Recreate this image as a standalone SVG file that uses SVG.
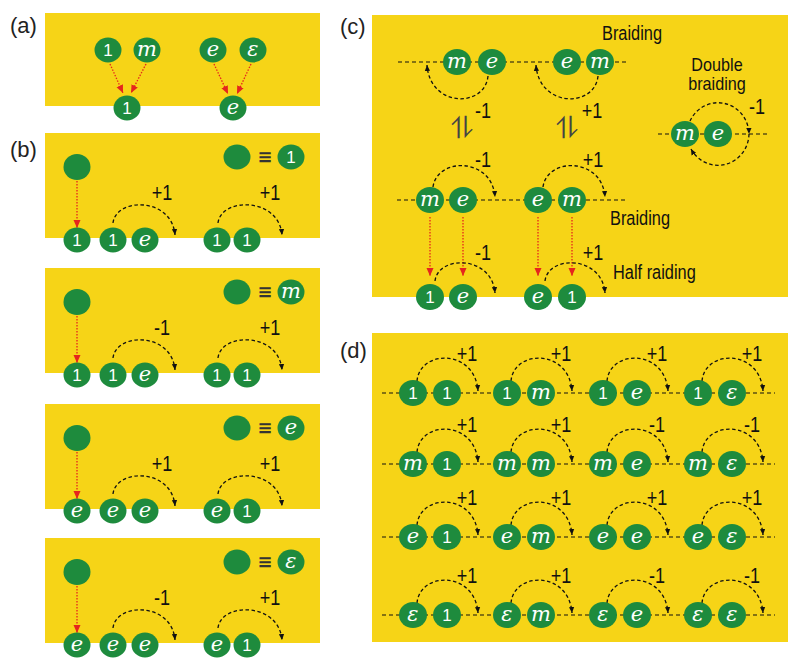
<svg xmlns="http://www.w3.org/2000/svg" width="800" height="667" viewBox="0 0 800 667">
<style>
.bg{fill:#F6D417}
.n{fill:#1E8B3D}
.t1{font-family:"Liberation Sans",Arial,sans-serif;font-size:17px;fill:#fff;text-anchor:middle}
.ti{font-family:"DejaVu Serif","Liberation Serif",serif;font-style:italic;font-size:21px;fill:#fff;text-anchor:middle}
.lab{font-family:"Liberation Sans",Arial,sans-serif;font-size:22px;fill:#111;text-anchor:middle}
.txt{font-family:"Liberation Sans",Arial,sans-serif;font-size:19.5px;fill:#111}
.txt2{font-family:"Liberation Sans",Arial,sans-serif;font-size:18px;fill:#111;text-anchor:middle}
.pl{font-family:"Liberation Sans",Arial,sans-serif;font-size:22px;fill:#222}
.eq{font-family:"DejaVu Sans",sans-serif;font-size:18px;font-weight:bold;fill:#333;text-anchor:middle}
.hp{font-family:"DejaVu Sans",sans-serif;font-size:30px;fill:#444;text-anchor:middle}
.dl{stroke:#111;stroke-width:1.2;stroke-dasharray:4 3;fill:none}
.arc{stroke:#111;stroke-width:1.3;stroke-dasharray:3.5 2.5;fill:none;marker-end:url(#ah)}
.red{stroke:#E5251D;stroke-width:1.3;stroke-dasharray:1.5 1.5;fill:none;marker-end:url(#rh)}
</style>
<defs>
<marker id="ah" viewBox="0 0 8 8" refX="8" refY="4" markerWidth="6" markerHeight="6" markerUnits="userSpaceOnUse" orient="auto"><path d="M0,0.5 L8,4 L0,7.5z" fill="#111"/></marker>
<marker id="rh" viewBox="0 0 8 8" refX="8" refY="4" markerWidth="8" markerHeight="8" markerUnits="userSpaceOnUse" orient="auto"><path d="M0,0.5 L8,4 L0,7.5z" fill="#E5251D"/></marker>
</defs>

<!-- panel backgrounds -->
<g id="panels">
<rect class="bg" x="45" y="13" width="275" height="93"/>
<rect class="bg" x="45" y="133" width="275" height="105"/>
<rect class="bg" x="45" y="268" width="275" height="105"/>
<rect class="bg" x="45" y="404" width="275" height="105"/>
<rect class="bg" x="45" y="538" width="275" height="105"/>
<rect class="bg" x="372" y="15" width="416" height="282"/>
<rect class="bg" x="372" y="333" width="416" height="309"/>
<text class="pl" x="10" y="33">(a)</text>
<text class="pl" x="10" y="157">(b)</text>
<text class="pl" x="340" y="34">(c)</text>
<text class="pl" x="340" y="358">(d)</text>
</g>

<!-- connectors -->
<g id="connectors">
<!-- (a) -->
<path class="red" d="M110,64 L123,93"/>
<path class="red" d="M146,64 L131,93"/>
<path class="red" d="M214,64 L228,94"/>
<path class="red" d="M251,64 L237,94"/>
<!-- (b) box1 T=133 -->
<path class="red" d="M77,181 L77,228"/>
<path class="arc" d="M113,223 C116,197 172,197 175,235"/>
<path class="arc" d="M218,223 C221,197 279,197 282,235"/>
<!-- box2 T=268 -->
<path class="red" d="M77,316 L77,363"/>
<path class="arc" d="M113,358 C116,332 172,332 175,370"/>
<path class="arc" d="M218,358 C221,332 279,332 282,370"/>
<!-- box3 T=404 -->
<path class="red" d="M77,452 L77,499"/>
<path class="arc" d="M113,494 C116,468 172,468 175,506"/>
<path class="arc" d="M218,494 C221,468 279,468 282,506"/>
<!-- box4 T=538 -->
<path class="red" d="M77,586 L77,633"/>
<path class="arc" d="M113,628 C116,602 172,602 175,640"/>
<path class="arc" d="M218,628 C221,602 279,602 282,640"/>
<!-- (c) -->
<line class="dl" x1="398" y1="62" x2="627" y2="62"/>
<path class="arc" d="M488,76 C485,108 430,108 427,65"/>
<path class="arc" d="M598,76 C595,108 539,108 536,65"/>
<line class="dl" x1="658" y1="134" x2="770" y2="134"/>
<path class="arc" d="M690,121 A31 32 0 0 1 749,134"/>
<path class="arc" d="M749,134 A31 32 0 0 1 691,149"/>
<line class="dl" x1="397" y1="200" x2="625" y2="200"/>
<path class="arc" d="M433,187 C437,157 492,157 495,197"/>
<path class="arc" d="M543,187 C547,157 602,157 605,197"/>
<path class="red" d="M430,217 L430,276"/>
<path class="red" d="M463,217 L463,276"/>
<path class="red" d="M538,217 L538,276"/>
<path class="red" d="M572,217 L572,276"/>
<path class="arc" d="M435,281 C438,255 492,255 495,293"/>
<path class="arc" d="M545,281 C548,255 602,255 605,293"/>
<!-- (d) -->
<line class="dl" x1="382" y1="393" x2="775" y2="393"/>
<line class="dl" x1="382" y1="464" x2="775" y2="464"/>
<line class="dl" x1="382" y1="537" x2="775" y2="537"/>
<line class="dl" x1="382" y1="615" x2="775" y2="615"/>
<path class="arc" d="M417,381 C420,349 475,349 478,391"/>
<path class="arc" d="M511,381 C514,349 569,349 572,391"/>
<path class="arc" d="M607,381 C610,349 665,349 668,391"/>
<path class="arc" d="M702,381 C705,349 760,349 763,391"/>
<path class="arc" d="M417,452 C420,420 475,420 478,462"/>
<path class="arc" d="M511,452 C514,420 569,420 572,462"/>
<path class="arc" d="M607,452 C610,420 665,420 668,462"/>
<path class="arc" d="M702,452 C705,420 760,420 763,462"/>
<path class="arc" d="M417,525 C420,493 475,493 478,535"/>
<path class="arc" d="M511,525 C514,493 569,493 572,535"/>
<path class="arc" d="M607,525 C610,493 665,493 668,535"/>
<path class="arc" d="M702,525 C705,493 760,493 763,535"/>
<path class="arc" d="M417,603 C420,571 475,571 478,613"/>
<path class="arc" d="M511,603 C514,571 569,571 572,613"/>
<path class="arc" d="M607,603 C610,571 665,571 668,613"/>
<path class="arc" d="M702,603 C705,571 760,571 763,613"/>
</g>

<!-- labels -->
<g id="labels">
<text class="lab" transform="translate(162,200) scale(0.82,1)">+1</text><text class="lab" transform="translate(270,200) scale(0.82,1)">+1</text>
<text class="lab" transform="translate(162,335) scale(0.82,1)">-1</text><text class="lab" transform="translate(270,335) scale(0.82,1)">+1</text>
<text class="lab" transform="translate(162,471) scale(0.82,1)">+1</text><text class="lab" transform="translate(270,471) scale(0.82,1)">+1</text>
<text class="lab" transform="translate(162,605) scale(0.82,1)">-1</text><text class="lab" transform="translate(270,605) scale(0.82,1)">+1</text>
<text class="eq" x="265" y="163">≡</text>
<text class="eq" x="265" y="298">≡</text>
<text class="eq" x="265" y="434">≡</text>
<text class="eq" x="265" y="568">≡</text>
<text class="txt" transform="translate(602,40) scale(0.84,1)">Braiding</text>
<text class="txt2" transform="translate(717,71) scale(0.9,1)">Double</text>
<text class="txt2" transform="translate(717,90) scale(0.9,1)">braiding</text>
<text class="lab" transform="translate(757,114) scale(0.82,1)">-1</text>
<text class="lab" transform="translate(483,118) scale(0.82,1)">-1</text>
<text class="lab" transform="translate(592,118) scale(0.82,1)">+1</text>
<text class="hp" x="462" y="138">⥮</text>
<text class="hp" x="567" y="138">⥮</text>
<text class="lab" transform="translate(483,167) scale(0.82,1)">-1</text>
<text class="lab" transform="translate(593,167) scale(0.82,1)">+1</text>
<text class="txt" transform="translate(610,225) scale(0.84,1)">Braiding</text>
<text class="lab" transform="translate(483,260) scale(0.82,1)">-1</text>
<text class="lab" transform="translate(593,260) scale(0.82,1)">+1</text>
<text class="txt" transform="translate(613,279) scale(0.84,1)">Half raiding</text>
<text class="lab" transform="translate(467,361) scale(0.82,1)">+1</text><text class="lab" transform="translate(561,361) scale(0.82,1)">+1</text><text class="lab" transform="translate(657,361) scale(0.82,1)">+1</text><text class="lab" transform="translate(752,361) scale(0.82,1)">+1</text>
<text class="lab" transform="translate(467,432) scale(0.82,1)">+1</text><text class="lab" transform="translate(561,432) scale(0.82,1)">+1</text><text class="lab" transform="translate(657,432) scale(0.82,1)">-1</text><text class="lab" transform="translate(752,432) scale(0.82,1)">-1</text>
<text class="lab" transform="translate(467,505) scale(0.82,1)">+1</text><text class="lab" transform="translate(561,505) scale(0.82,1)">+1</text><text class="lab" transform="translate(657,505) scale(0.82,1)">+1</text><text class="lab" transform="translate(752,505) scale(0.82,1)">+1</text>
<text class="lab" transform="translate(467,583) scale(0.82,1)">+1</text><text class="lab" transform="translate(561,583) scale(0.82,1)">+1</text><text class="lab" transform="translate(657,583) scale(0.82,1)">-1</text><text class="lab" transform="translate(752,583) scale(0.82,1)">-1</text>
</g>

<!-- (a) nodes -->
<g id="a-1"><ellipse class="n" cx="108" cy="50" rx="13.5" ry="12.5"/><text class="t1" x="108" y="56">1</text></g>
<g id="a-m"><ellipse class="n" cx="147" cy="50" rx="13.5" ry="12.5"/><text class="ti" x="147" y="55.5">m</text></g>
<g id="a-e"><ellipse class="n" cx="213" cy="50" rx="13.5" ry="12.5"/><text class="ti" x="213" y="55.5">e</text></g>
<g id="a-eps"><ellipse class="n" cx="253" cy="50" rx="13.5" ry="12.5"/><text class="ti" x="253" y="55.5">ε</text></g>
<g id="a-out1"><ellipse class="n" cx="127" cy="108" rx="13.5" ry="12.5"/><text class="t1" x="127" y="114">1</text></g>
<g id="a-oute"><ellipse class="n" cx="233" cy="108" rx="13.5" ry="12.5"/><text class="ti" x="233" y="113.5">e</text></g>

<!-- (b) box1 -->
<g id="b1-src"><ellipse class="n" cx="77" cy="167" rx="13.5" ry="13"/></g>
<g id="b1-leg"><ellipse class="n" cx="237" cy="157" rx="13.5" ry="12.5"/><ellipse class="n" cx="291" cy="157" rx="13.5" ry="12.5"/><text class="t1" x="291" y="163">1</text></g>
<g id="b1-r1"><ellipse class="n" cx="77" cy="240" rx="13.5" ry="12.5"/><text class="t1" x="77" y="246">1</text></g>
<g id="b1-p1"><ellipse class="n" cx="113" cy="240" rx="13.5" ry="12.5"/><text class="t1" x="113" y="246">1</text><ellipse class="n" cx="145" cy="240" rx="13.5" ry="12.5"/><text class="ti" x="145" y="245.5">e</text></g>
<g id="b1-p2"><ellipse class="n" cx="217" cy="240" rx="13.5" ry="12.5"/><text class="t1" x="217" y="246">1</text><ellipse class="n" cx="247" cy="240" rx="13.5" ry="12.5"/><text class="t1" x="247" y="246">1</text></g>

<!-- (b) box2 -->
<g id="b2-src"><ellipse class="n" cx="77" cy="302" rx="13.5" ry="13"/></g>
<g id="b2-leg"><ellipse class="n" cx="237" cy="292" rx="13.5" ry="12.5"/><ellipse class="n" cx="291" cy="292" rx="13.5" ry="12.5"/><text class="ti" x="291" y="297.5">m</text></g>
<g id="b2-r1"><ellipse class="n" cx="77" cy="375" rx="13.5" ry="12.5"/><text class="t1" x="77" y="381">1</text></g>
<g id="b2-p1"><ellipse class="n" cx="113" cy="375" rx="13.5" ry="12.5"/><text class="t1" x="113" y="381">1</text><ellipse class="n" cx="145" cy="375" rx="13.5" ry="12.5"/><text class="ti" x="145" y="380.5">e</text></g>
<g id="b2-p2"><ellipse class="n" cx="217" cy="375" rx="13.5" ry="12.5"/><text class="t1" x="217" y="381">1</text><ellipse class="n" cx="247" cy="375" rx="13.5" ry="12.5"/><text class="t1" x="247" y="381">1</text></g>

<!-- (b) box3 -->
<g id="b3-src"><ellipse class="n" cx="77" cy="438" rx="13.5" ry="13"/></g>
<g id="b3-leg"><ellipse class="n" cx="237" cy="428" rx="13.5" ry="12.5"/><ellipse class="n" cx="291" cy="428" rx="13.5" ry="12.5"/><text class="ti" x="291" y="433.5">e</text></g>
<g id="b3-r1"><ellipse class="n" cx="77" cy="511" rx="13.5" ry="12.5"/><text class="ti" x="77" y="516.5">e</text></g>
<g id="b3-p1"><ellipse class="n" cx="113" cy="511" rx="13.5" ry="12.5"/><text class="ti" x="113" y="516.5">e</text><ellipse class="n" cx="145" cy="511" rx="13.5" ry="12.5"/><text class="ti" x="145" y="516.5">e</text></g>
<g id="b3-p2"><ellipse class="n" cx="217" cy="511" rx="13.5" ry="12.5"/><text class="ti" x="217" y="516.5">e</text><ellipse class="n" cx="247" cy="511" rx="13.5" ry="12.5"/><text class="t1" x="247" y="517">1</text></g>

<!-- (b) box4 -->
<g id="b4-src"><ellipse class="n" cx="77" cy="572" rx="13.5" ry="13"/></g>
<g id="b4-leg"><ellipse class="n" cx="237" cy="562" rx="13.5" ry="12.5"/><ellipse class="n" cx="291" cy="562" rx="13.5" ry="12.5"/><text class="ti" x="291" y="567.5">ε</text></g>
<g id="b4-r1"><ellipse class="n" cx="77" cy="645" rx="13.5" ry="12.5"/><text class="ti" x="77" y="650.5">e</text></g>
<g id="b4-p1"><ellipse class="n" cx="113" cy="645" rx="13.5" ry="12.5"/><text class="ti" x="113" y="650.5">e</text><ellipse class="n" cx="145" cy="645" rx="13.5" ry="12.5"/><text class="ti" x="145" y="650.5">e</text></g>
<g id="b4-p2"><ellipse class="n" cx="217" cy="645" rx="13.5" ry="12.5"/><text class="ti" x="217" y="650.5">e</text><ellipse class="n" cx="247" cy="645" rx="13.5" ry="12.5"/><text class="t1" x="247" y="651">1</text></g>

<!-- (c) nodes -->
<g id="c-top1"><ellipse class="n" cx="457" cy="62" rx="14" ry="13"/><text class="ti" x="457" y="67.5">m</text><ellipse class="n" cx="492" cy="62" rx="14" ry="13"/><text class="ti" x="492" y="67.5">e</text></g>
<g id="c-top2"><ellipse class="n" cx="567" cy="62" rx="14" ry="13"/><text class="ti" x="567" y="67.5">e</text><ellipse class="n" cx="600" cy="62" rx="14" ry="13"/><text class="ti" x="600" y="67.5">m</text></g>
<g id="c-dbl"><ellipse class="n" cx="685" cy="134" rx="14" ry="13"/><text class="ti" x="685" y="139.5">m</text><ellipse class="n" cx="718" cy="134" rx="14" ry="13"/><text class="ti" x="718" y="139.5">e</text></g>
<g id="c-mid1"><ellipse class="n" cx="430" cy="200" rx="14" ry="13"/><text class="ti" x="430" y="205.5">m</text><ellipse class="n" cx="463" cy="200" rx="14" ry="13"/><text class="ti" x="463" y="205.5">e</text></g>
<g id="c-mid2"><ellipse class="n" cx="538" cy="200" rx="14" ry="13"/><text class="ti" x="538" y="205.5">e</text><ellipse class="n" cx="572" cy="200" rx="14" ry="13"/><text class="ti" x="572" y="205.5">m</text></g>
<g id="c-bot1"><ellipse class="n" cx="430" cy="297" rx="14" ry="13"/><text class="t1" x="430" y="303">1</text><ellipse class="n" cx="463" cy="297" rx="14" ry="13"/><text class="ti" x="463" y="302.5">e</text></g>
<g id="c-bot2"><ellipse class="n" cx="538" cy="297" rx="14" ry="13"/><text class="ti" x="538" y="302.5">e</text><ellipse class="n" cx="572" cy="297" rx="14" ry="13"/><text class="t1" x="572" y="303">1</text></g>

<!-- (d) nodes row1 -->
<g id="d-11"><ellipse class="n" cx="413" cy="393" rx="14" ry="13"/><text class="t1" x="413" y="399">1</text><ellipse class="n" cx="447" cy="393" rx="14" ry="13"/><text class="t1" x="447" y="399">1</text></g>
<g id="d-1m"><ellipse class="n" cx="507" cy="393" rx="14" ry="13"/><text class="t1" x="507" y="399">1</text><ellipse class="n" cx="541" cy="393" rx="14" ry="13"/><text class="ti" x="541" y="398.5">m</text></g>
<g id="d-1e"><ellipse class="n" cx="603" cy="393" rx="14" ry="13"/><text class="t1" x="603" y="399">1</text><ellipse class="n" cx="637" cy="393" rx="14" ry="13"/><text class="ti" x="637" y="398.5">e</text></g>
<g id="d-1eps"><ellipse class="n" cx="698" cy="393" rx="14" ry="13"/><text class="t1" x="698" y="399">1</text><ellipse class="n" cx="732" cy="393" rx="14" ry="13"/><text class="ti" x="732" y="398.5">ε</text></g>
<!-- row2 -->
<g id="d-m1"><ellipse class="n" cx="413" cy="464" rx="14" ry="13"/><text class="ti" x="413" y="469.5">m</text><ellipse class="n" cx="447" cy="464" rx="14" ry="13"/><text class="t1" x="447" y="470">1</text></g>
<g id="d-mm"><ellipse class="n" cx="507" cy="464" rx="14" ry="13"/><text class="ti" x="507" y="469.5">m</text><ellipse class="n" cx="541" cy="464" rx="14" ry="13"/><text class="ti" x="541" y="469.5">m</text></g>
<g id="d-me"><ellipse class="n" cx="603" cy="464" rx="14" ry="13"/><text class="ti" x="603" y="469.5">m</text><ellipse class="n" cx="637" cy="464" rx="14" ry="13"/><text class="ti" x="637" y="469.5">e</text></g>
<g id="d-meps"><ellipse class="n" cx="698" cy="464" rx="14" ry="13"/><text class="ti" x="698" y="469.5">m</text><ellipse class="n" cx="732" cy="464" rx="14" ry="13"/><text class="ti" x="732" y="469.5">ε</text></g>
<!-- row3 -->
<g id="d-e1"><ellipse class="n" cx="413" cy="537" rx="14" ry="13"/><text class="ti" x="413" y="542.5">e</text><ellipse class="n" cx="447" cy="537" rx="14" ry="13"/><text class="t1" x="447" y="543">1</text></g>
<g id="d-em"><ellipse class="n" cx="507" cy="537" rx="14" ry="13"/><text class="ti" x="507" y="542.5">e</text><ellipse class="n" cx="541" cy="537" rx="14" ry="13"/><text class="ti" x="541" y="542.5">m</text></g>
<g id="d-ee"><ellipse class="n" cx="603" cy="537" rx="14" ry="13"/><text class="ti" x="603" y="542.5">e</text><ellipse class="n" cx="637" cy="537" rx="14" ry="13"/><text class="ti" x="637" y="542.5">e</text></g>
<g id="d-eeps"><ellipse class="n" cx="698" cy="537" rx="14" ry="13"/><text class="ti" x="698" y="542.5">e</text><ellipse class="n" cx="732" cy="537" rx="14" ry="13"/><text class="ti" x="732" y="542.5">ε</text></g>
<!-- row4 -->
<g id="d-eps1"><ellipse class="n" cx="413" cy="615" rx="14" ry="13"/><text class="ti" x="413" y="620.5">ε</text><ellipse class="n" cx="447" cy="615" rx="14" ry="13"/><text class="t1" x="447" y="621">1</text></g>
<g id="d-epsm"><ellipse class="n" cx="507" cy="615" rx="14" ry="13"/><text class="ti" x="507" y="620.5">ε</text><ellipse class="n" cx="541" cy="615" rx="14" ry="13"/><text class="ti" x="541" y="620.5">m</text></g>
<g id="d-epse"><ellipse class="n" cx="603" cy="615" rx="14" ry="13"/><text class="ti" x="603" y="620.5">ε</text><ellipse class="n" cx="637" cy="615" rx="14" ry="13"/><text class="ti" x="637" y="620.5">e</text></g>
<g id="d-epseps"><ellipse class="n" cx="698" cy="615" rx="14" ry="13"/><text class="ti" x="698" y="620.5">ε</text><ellipse class="n" cx="732" cy="615" rx="14" ry="13"/><text class="ti" x="732" y="620.5">ε</text></g>
</svg>
